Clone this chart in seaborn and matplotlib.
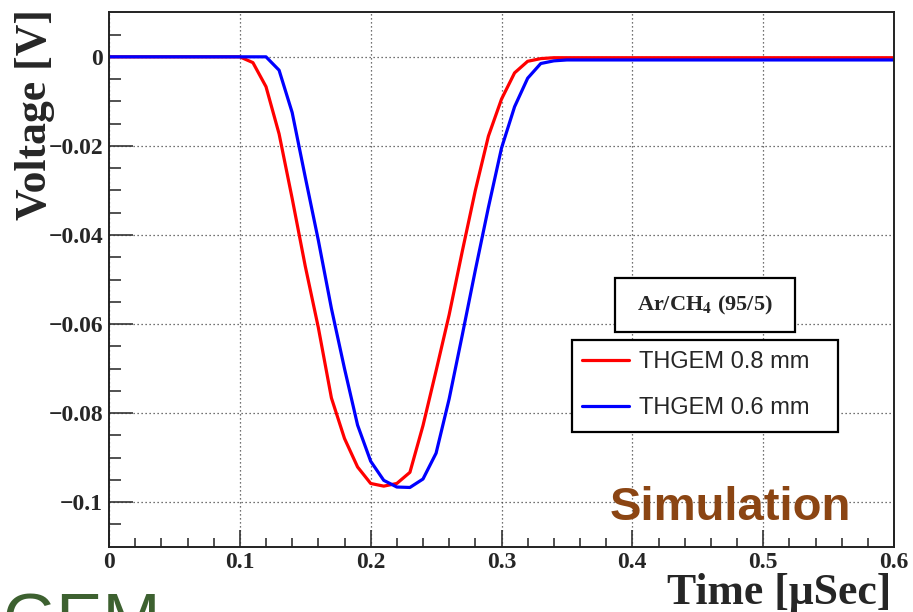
import numpy as np
import pandas as pd
import matplotlib
matplotlib.use("Agg")
import matplotlib.pyplot as plt
import seaborn as sns
from matplotlib.patches import Rectangle
from matplotlib.ticker import FixedLocator, FixedFormatter

# ---------------- data ----------------
time_us = [0.00, 0.01, 0.02, 0.03, 0.04, 0.05, 0.06, 0.07, 0.08, 0.09,
           0.10, 0.11, 0.12, 0.13, 0.14, 0.15, 0.16, 0.17, 0.18, 0.19,
           0.20, 0.21, 0.22, 0.23, 0.24, 0.25, 0.26, 0.27, 0.28, 0.29,
           0.30, 0.31, 0.32, 0.33, 0.34, 0.35, 0.36, 0.37, 0.38, 0.39,
           0.40, 0.41, 0.42, 0.43, 0.44, 0.45, 0.46, 0.47, 0.48, 0.49,
           0.50, 0.51, 0.52, 0.53, 0.54, 0.55, 0.56, 0.57, 0.58, 0.59,
           0.60]

v_thgem_08 = [0, 0, 0, 0, 0, 0, 0, 0, 0, 0,
              0, -0.0013, -0.0067, -0.0173, -0.0318, -0.0470, -0.0608, -0.0766, -0.0857, -0.0921,
              -0.0958, -0.0964, -0.0958, -0.0933, -0.0828, -0.0705, -0.0579, -0.0437, -0.0300, -0.0178,
              -0.0095, -0.0036, -0.0010, -0.0004, -0.0002, -0.0002, -0.0002, -0.0002, -0.0002, -0.0002,
              -0.0002, -0.0002, -0.0002, -0.0002, -0.0002, -0.0002, -0.0002, -0.0002, -0.0002, -0.0002,
              -0.0002, -0.0002, -0.0002, -0.0002, -0.0002, -0.0002, -0.0002, -0.0002, -0.0002, -0.0002,
              -0.0002]

v_thgem_06 = [0, 0, 0, 0, 0, 0, 0, 0, 0, 0,
              0, 0, 0, -0.0030, -0.0125, -0.0270, -0.0412, -0.0565, -0.0700, -0.0827,
              -0.0908, -0.0951, -0.0966, -0.0967, -0.0948, -0.0890, -0.0768, -0.0625, -0.0479, -0.0338,
              -0.0205, -0.0112, -0.0048, -0.0015, -0.0009, -0.0007, -0.0007, -0.0007, -0.0007, -0.0007,
              -0.0007, -0.0007, -0.0007, -0.0007, -0.0007, -0.0007, -0.0007, -0.0007, -0.0007, -0.0007,
              -0.0007, -0.0007, -0.0007, -0.0007, -0.0007, -0.0007, -0.0007, -0.0007, -0.0007, -0.0007,
              -0.0007]

series_names = ["THGEM 0.8 mm", "THGEM 0.6 mm"]
series_colors = ["#ff0000", "#0000ff"]

x_ticks = [0, 0.1, 0.2, 0.3, 0.4, 0.5, 0.6]
x_ticklabels = ["0", "0.1", "0.2", "0.3", "0.4", "0.5", "0.6"]
y_ticks = [-0.1, -0.08, -0.06, -0.04, -0.02, 0]
y_ticklabels = ["\u22120.1", "\u22120.08", "\u22120.06", "\u22120.04", "\u22120.02", "0"]
x_minor = [0.02, 0.04, 0.06, 0.08, 0.12, 0.14, 0.16, 0.18, 0.22, 0.24, 0.26, 0.28,
           0.32, 0.34, 0.36, 0.38, 0.42, 0.44, 0.46, 0.48, 0.52, 0.54, 0.56, 0.58]
y_minor = [-0.105, -0.095, -0.09, -0.085, -0.075, -0.07, -0.065, -0.055, -0.05, -0.045,
           -0.035, -0.03, -0.025, -0.015, -0.01, -0.005, 0.005]

df = pd.concat([
    pd.DataFrame({"Time": time_us, "Voltage": v_thgem_08, "Detector": series_names[0]}),
    pd.DataFrame({"Time": time_us, "Voltage": v_thgem_06, "Detector": series_names[1]}),
], ignore_index=True)

# ---------------- style ----------------
sns.set_style("white")
plt.rcParams["font.family"] = ["Liberation Serif", "DejaVu Serif"]
plt.rcParams["mathtext.fontset"] = "stix"
plt.rcParams["axes.unicode_minus"] = True

W, H = 913, 612
fig = plt.figure(figsize=(W / 100, H / 100), dpi=100)
ax = fig.add_axes([109 / W, 1 - 546.7 / H, 785 / W, 534.4 / H])

def fx(px):
    return px / W

def fy(py):
    return 1 - py / H

sns.lineplot(data=df, x="Time", y="Voltage", hue="Detector", hue_order=series_names,
             palette=dict(zip(series_names, series_colors)), estimator=None,
             linewidth=2.3, ax=ax, legend=True)

ax.set_xlim(0, 0.6)
ax.set_ylim(-0.11, 0.01)

ax.xaxis.set_major_locator(FixedLocator(x_ticks))
ax.xaxis.set_major_formatter(FixedFormatter(x_ticklabels))
ax.yaxis.set_major_locator(FixedLocator(y_ticks))
ax.yaxis.set_major_formatter(FixedFormatter(y_ticklabels))
ax.xaxis.set_minor_locator(FixedLocator(x_minor))
ax.yaxis.set_minor_locator(FixedLocator(y_minor))

ax.grid(True, which="major", linestyle=(0, (1, 2.2)), color="#444444", linewidth=0.9)
ax.set_axisbelow(True)

for s in ax.spines.values():
    s.set_visible(True)
    s.set_color("#222222")
    s.set_linewidth(1.4)

ax.tick_params(axis="both", which="both", direction="in", color="#333333", width=1.2,
               top=False, right=False, left=True, bottom=True)
ax.tick_params(axis="x", which="major", length=12, pad=4.0)
ax.tick_params(axis="x", which="minor", length=6.5)
ax.tick_params(axis="y", which="major", length=17, pad=4.3)
ax.tick_params(axis="y", which="minor", length=8.6)
for lab in ax.get_xticklabels() + ax.get_yticklabels():
    lab.set_fontsize(17)
    lab.set_fontweight("bold")
    lab.set_family(["Liberation Serif"])

ax.set_xlabel("Time [\u03bcSec]", loc="right", fontsize=31.5, fontweight="bold")
ax.set_ylabel("Voltage [V]", loc="top", fontsize=31.5, fontweight="bold")
ax.xaxis.set_label_coords((891.7 - 109) / 785, -(573 - 546.7) / 534.4)
ax.yaxis.set_label_coords((55 - 109) / 785, (546.7 - 9) / 534.4)

# boxes (drawn inside the axes so the legend can sit on top of them)
leg_box = Rectangle((fx(571.7), fy(432.3)), (838.3 - 571.7) / W, (432.3 - 340) / H,
                    transform=fig.transFigure, facecolor="white",
                    edgecolor="black", linewidth=1.6, zorder=4, clip_on=False)
ax.add_patch(leg_box)
title_box = Rectangle((fx(615), fy(331.7)), 180 / W, 53.4 / H,
                      transform=fig.transFigure, facecolor="white",
                      edgecolor="black", linewidth=1.6, zorder=4, clip_on=False)
ax.add_patch(title_box)

handles, labels = ax.get_legend_handles_labels()
leg = ax.legend(handles, labels, loc="center left",
                bbox_to_anchor=(fx(581.7), fy(385.2)), bbox_transform=fig.transFigure,
                frameon=False, borderpad=0, borderaxespad=0,
                handlelength=1.99, handletextpad=0.42, labelspacing=1.0,
                prop={"family": "Liberation Sans", "size": 17})
leg.set_zorder(6)
for ln in leg.get_lines():
    ln.set_linewidth(2.3)

ax.text(fx(705), fy(305), r"Ar/CH$_{\mathbf{4}}$ (95/5)", transform=fig.transFigure,
        ha="center", va="center", fontsize=16, fontweight="bold",
        family="Liberation Serif", zorder=6)

# overlay texts
fig.text(fx(610), fy(520), "Simulation", ha="left", va="baseline", fontsize=34,
         fontweight="bold", family="Liberation Sans", color="#8b4513", zorder=4)
fig.text(fx(2), fy(642), "GEM", ha="left", va="baseline", fontsize=50,
         family="Liberation Sans", color="#3d6130", zorder=4)

fig.savefig("out.png", dpi=100)
